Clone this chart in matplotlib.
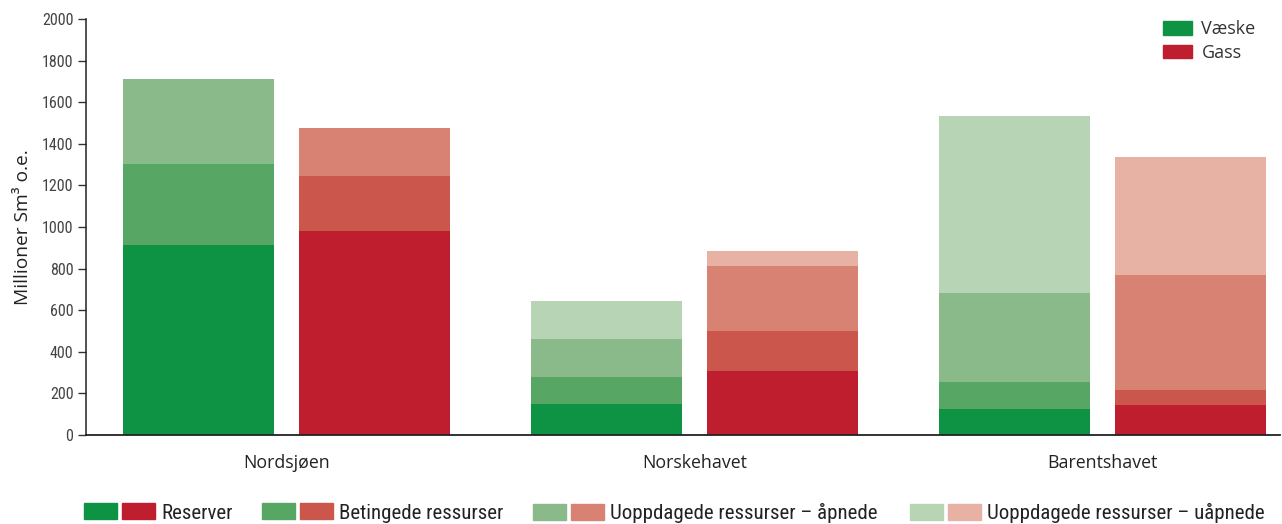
import matplotlib
matplotlib.use("Agg")
import matplotlib.pyplot as plt
from matplotlib.patches import Patch
from matplotlib.legend_handler import HandlerTuple

# Resource volumes per area (million Sm3 o.e.)
areas = ["Nordsjøen", "Norskehavet", "Barentshavet"]
categories = ["Reserver", "Betingede ressurser",
              "Uoppdagede ressurser – åpnede", "Uoppdagede ressurser – uåpnede"]

liquid = {
    "Reserver": [913, 149, 125],
    "Betingede ressurser": [391, 130, 130],
    "Uoppdagede ressurser – åpnede": [408, 182, 428],
    "Uoppdagede ressurser – uåpnede": [0, 183, 851],
}
gas = {
    "Reserver": [981, 308, 144],
    "Betingede ressurser": [264, 192, 72],
    "Uoppdagede ressurser – åpnede": [231, 313, 553],
    "Uoppdagede ressurser – uåpnede": [0, 72, 568],
}

green_shades = ["#0E9345", "#57A664", "#8ABA89", "#B7D4B5"]
red_shades = ["#BE1E2D", "#CA564C", "#D88274", "#E7B2A3"]

yticks = list(range(0, 2001, 200))

cond = ["Liberation Sans Narrow", "Roboto Condensed", "DejaVu Sans"]
reg = ["Open Sans", "DejaVu Sans"]

W, H = 1282, 524
fig = plt.figure(figsize=(W / 100, H / 100), dpi=100)
ax = fig.add_axes([86 / W, 89 / H, (1280 - 86) / W, (435 - 19) / H])

x = list(range(len(areas)))
width = 0.37
off = 0.2157

for series, shades, sign in ((liquid, green_shades, -1), (gas, red_shades, 1)):
    bottom = [0] * len(areas)
    for cat, col in zip(categories, shades):
        vals = series[cat]
        ax.bar([xi + sign * off for xi in x], vals, width=width, bottom=bottom,
               color=col, linewidth=0)
        bottom = [b + v for b, v in zip(bottom, vals)]

ax.set_xlim(-0.491, 2.435)
ax.set_ylim(0, 2000)
ax.set_yticks(yticks)
ax.set_yticklabels([str(t) for t in yticks], fontfamily=cond, fontsize=11.5,
                   color="#444444")
ax.set_xticks(x)
ax.set_xticklabels(areas, fontfamily=reg, fontsize=12.8, color="#222222")
ax.tick_params(axis="x", length=0, pad=14)
ax.tick_params(axis="y", length=6, width=1, color="#333333", pad=3, direction="out")

for s in ("top", "right"):
    ax.spines[s].set_visible(False)
ax.spines["left"].set_color("#222222")
ax.spines["bottom"].set_color("#222222")
ax.spines["left"].set_linewidth(1.1)
ax.spines["bottom"].set_linewidth(1.3)

ax.set_ylabel("Millioner Sm³ o.e.", fontfamily=reg, fontsize=13.8,
              color="#222222", labelpad=7)

# Fluid type legend (top right)
fluid_handles = [Patch(color=green_shades[0]), Patch(color=red_shades[0])]
leg1 = ax.legend(fluid_handles, ["Væske", "Gass"], loc="upper right",
                 bbox_to_anchor=(1272 / W, 1 - 4 / H), bbox_transform=fig.transFigure,
                 frameon=False, handlelength=1.6, handleheight=0.75,
                 handletextpad=0.55, labelspacing=0.3,
                 prop={"family": reg, "size": 13})
for t in leg1.get_texts():
    t.set_color("#333333")

# Resource class legend (bottom), one entry per class
legend_x = [84, 262, 533, 910]
for cat, g, r, lx in zip(categories, green_shades, red_shades, legend_x):
    lg = fig.legend([(Patch(color=g), Patch(color=r))], [cat],
                    handler_map={tuple: HandlerTuple(ndivide=None, pad=0.2)},
                    loc="center left", bbox_to_anchor=(lx / W, 1 - 513 / H),
                    frameon=False, handlelength=3.4, handleheight=0.78,
                    handletextpad=0.3, borderpad=0, borderaxespad=0,
                    prop={"family": cond, "size": 15})
    for t in lg.get_texts():
        t.set_color("#222222")

fig.savefig("out.png", dpi=100)
